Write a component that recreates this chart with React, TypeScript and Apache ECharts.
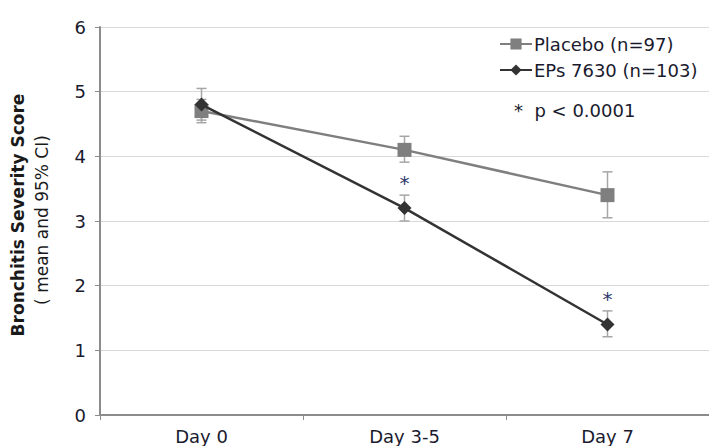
import React, { useEffect, useRef } from "react";
import * as echarts from "echarts";

const categories = ["Day 0", "Day 3-5", "Day 7"];
const placeboMean = [4.7, 4.1, 3.4];
const placeboLow = [4.52, 3.91, 3.05];
const placeboHigh = [4.88, 4.31, 3.76];
const epsMean = [4.8, 3.2, 1.4];
const epsLow = [4.56, 3.0, 1.21];
const epsHigh = [5.05, 3.4, 1.61];
const significant = [false, true, true];
const seriesNames = ["Placebo (n=97)", "EPs 7630 (n=103)"];
const yTicks = { min: 0, max: 6, interval: 1 };

const FONT = "'DejaVu Sans', Verdana, sans-serif";

export default function App() {
  const ref = useRef<HTMLDivElement>(null);
  useEffect(() => {
    if (!ref.current) return;
    const chart = echarts.init(ref.current, null, { renderer: "svg" });

    const errorRender = (color: string) => (params: any, api: any) => {
      const x = api.value(0);
      const lo = api.coord([x, api.value(1)]);
      const hi = api.coord([x, api.value(2)]);
      const w = 5;
      const style = { stroke: color, lineWidth: 1.5 };
      return {
        type: "group",
        children: [
          { type: "line", shape: { x1: lo[0], y1: lo[1], x2: hi[0], y2: hi[1] }, style },
          { type: "line", shape: { x1: lo[0] - w, y1: lo[1], x2: lo[0] + w, y2: lo[1] }, style },
          { type: "line", shape: { x1: hi[0] - w, y1: hi[1], x2: hi[0] + w, y2: hi[1] }, style },
        ],
      };
    };

    chart.setOption({
      animation: false,
      textStyle: { fontFamily: FONT },
      grid: { left: 100, top: 27, bottom: 31, right: -9, containLabel: false },
      legend: {
        orient: "vertical",
        left: 494,
        top: 30,
        itemWidth: 32,
        itemHeight: 14,
        itemGap: 8,
        data: seriesNames,
        textStyle: { fontFamily: FONT, fontSize: 18, color: "#1a1a2e", padding: [0, 0, 0, -3] },
      },
      xAxis: {
        type: "category",
        data: categories,
        boundaryGap: true,
        axisLine: { lineStyle: { color: "#8c8c8c", width: 2 } },
        axisTick: { show: true, length: 5, lineStyle: { color: "#8c8c8c", width: 1 } },
        axisLabel: { fontFamily: FONT, fontSize: 18, color: "#1a1a2e", margin: 12 },
        splitLine: { show: false },
      },
      yAxis: {
        type: "value",
        min: yTicks.min,
        max: yTicks.max,
        interval: yTicks.interval,
        axisLine: { show: true, lineStyle: { color: "#8c8c8c", width: 2 } },
        axisTick: { show: true, length: 5, lineStyle: { color: "#8c8c8c", width: 1 } },
        axisLabel: { fontFamily: FONT, fontSize: 18, color: "#1a1a2e", margin: 14 },
        splitLine: { show: true, lineStyle: { color: "#d9d9d9", width: 1 } },
      },
      graphic: [
        {
          type: "text",
          x: 18,
          y: 215,
          rotation: Math.PI / 2,
          style: {
            text: "Bronchitis Severity Score",
            font: `bold 17px ${FONT}`,
            fill: "#1a1a1a",
            align: "center",
            verticalAlign: "middle",
          },
        },
        {
          type: "text",
          x: 42,
          y: 220,
          rotation: Math.PI / 2,
          style: {
            text: "( mean and 95% CI)",
            font: `17px ${FONT}`,
            fill: "#1a1a1a",
            align: "center",
            verticalAlign: "middle",
          },
        },
        {
          type: "text",
          x: 514,
          y: 110,
          style: {
            text: "*  p < 0.0001",
            font: `18px ${FONT}`,
            fill: "#1a1a2e",
            align: "left",
            verticalAlign: "middle",
          },
        },
      ],
      series: [
        {
          type: "custom",
          name: "placeboCI",
          renderItem: errorRender("#a6a6a6"),
          data: placeboLow.map((lo, i) => [i, lo, placeboHigh[i]]),
          encode: { x: 0, y: [1, 2] },
          z: 1,
          silent: true,
        },
        {
          type: "custom",
          name: "epsCI",
          renderItem: errorRender("#a6a6a6"),
          data: epsLow.map((lo, i) => [i, lo, epsHigh[i]]),
          encode: { x: 0, y: [1, 2] },
          z: 1,
          silent: true,
        },
        {
          type: "line",
          name: seriesNames[0],
          data: placeboMean,
          symbol: "rect",
          symbolSize: 14,
          itemStyle: { color: "#7f7f7f" },
          lineStyle: { color: "#7f7f7f", width: 2.5 },
          z: 3,
        },
        {
          type: "line",
          name: seriesNames[1],
          data: epsMean.map((v, i) => ({
            value: v,
            label: significant[i]
              ? {
                  show: true,
                  position: "top",
                  distance: 8,
                  formatter: "*",
                  fontFamily: FONT,
                  fontSize: 20,
                  color: "#2e3a6e",
                }
              : { show: false },
          })),
          symbol: "diamond",
          symbolSize: 14,
          itemStyle: { color: "#333333" },
          lineStyle: { color: "#333333", width: 2.5 },
          z: 4,
        },
      ],
    });
    return () => chart.dispose();
  }, []);
  return (
    <div
      ref={ref}
      style={{ position: "fixed", left: 0, top: 0, width: 709, height: 446, background: "#fff" }}
    />
  );
}
